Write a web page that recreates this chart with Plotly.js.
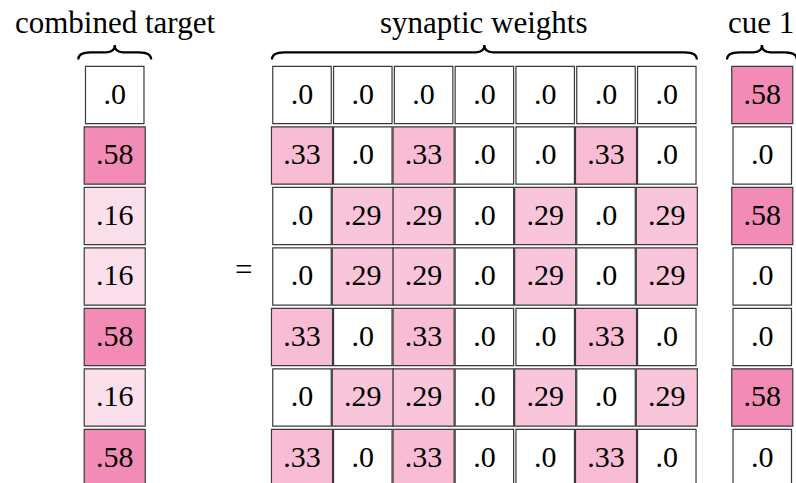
<!DOCTYPE html>
<html>
<head>
<meta charset="utf-8">
<script src="https://cdn.plot.ly/plotly-3.0.1.min.js"></script>
<style>html,body{margin:0;padding:0;background:#fff;}#chart{width:796px;height:483px;}</style>
</head>
<body>
<div id="chart"></div>
<script>
// ---- data ----
const titles = ["combined target", "synaptic weights", "cue 1"];
const combinedTarget = [0, 0.58, 0.16, 0.16, 0.58, 0.16, 0.58];
const weightsRow0 = [0, 0, 0, 0, 0, 0, 0];
const weightsRow1 = [0.33, 0, 0.33, 0, 0, 0.33, 0];
const weightsRow2 = [0, 0.29, 0.29, 0, 0.29, 0, 0.29];
const weightsRow3 = [0, 0.29, 0.29, 0, 0.29, 0, 0.29];
const weightsRow4 = [0.33, 0, 0.33, 0, 0, 0.33, 0];
const weightsRow5 = [0, 0.29, 0.29, 0, 0.29, 0, 0.29];
const weightsRow6 = [0.33, 0, 0.33, 0, 0, 0.33, 0];
const cue1 = [0.58, 0, 0.58, 0, 0, 0.58, 0];
const weights = [weightsRow0, weightsRow1, weightsRow2, weightsRow3, weightsRow4, weightsRow5, weightsRow6];

// ---- helpers ----
function label(v) { return v === 0 ? ".0" : "." + String(Math.round(v * 100)).padStart(2, "0"); }
function fill(v) {
  const r = Math.round(255 - 22 * v), g = Math.round(255 - 200 * v), b = Math.round(255 - 126 * v);
  return "rgb(" + r + "," + g + "," + b + ")";
}

// layout constants (axis units: 1 = one cell pitch)
const targetX = -3.08, cueX = 7.57, eqX = -0.955;
const halfH = 0.474;
function halfW(v) { return v === 0 ? 0.481 : 0.502; }
const serif = "Liberation Serif";

const shapes = [];
const traces = [];
function addCell(x, y, v) {
  const hw = halfW(v);
  shapes.push({type: "rect", xref: "x", yref: "y", x0: x - hw, x1: x + hw, y0: y - halfH, y1: y + halfH,
    fillcolor: fill(v), line: {color: "#3a3a3a", width: 1.2}, layer: "below"});
}
function addTextTrace(xs, ys, vs) {
  traces.push({type: "scatter", mode: "text", x: xs, y: ys, text: vs.map(label),
    textposition: "middle center", hoverinfo: "skip", showlegend: false,
    textfont: {family: serif, size: 30, color: "#000"}});
}

// combined target column
{
  const xs = [], ys = [];
  combinedTarget.forEach((v, i) => { addCell(targetX, i, v); xs.push(targetX); ys.push(i + 0.02); });
  addTextTrace(xs, ys, combinedTarget);
}
// synaptic weights matrix
{
  const xs = [], ys = [], vs = [];
  weights.forEach((row, i) => row.forEach((v, j) => { addCell(j, i, v); xs.push(j); ys.push(i + 0.02); vs.push(v); }));
  addTextTrace(xs, ys, vs);
}
// cue column
{
  const xs = [], ys = [];
  cue1.forEach((v, i) => { addCell(cueX, i, v); xs.push(cueX); ys.push(i + 0.02); });
  addTextTrace(xs, ys, cue1);
}

// braces
function brace(x0, x1) {
  const yb = -0.585, ym = -0.705, yt = -0.825, r1 = 0.2, r2 = 0.14, xc = (x0 + x1) / 2;
  return "M" + x0 + "," + yb + " Q" + x0 + "," + ym + " " + (x0 + r1) + "," + ym +
    " L" + (xc - r2) + "," + ym + " Q" + xc + "," + ym + " " + xc + "," + yt +
    " Q" + xc + "," + ym + " " + (xc + r2) + "," + ym +
    " L" + (x1 - r1) + "," + ym + " Q" + x1 + "," + ym + " " + x1 + "," + yb;
}
[[targetX - 0.6, targetX + 0.6], [-0.495, 6.495], [cueX - 0.58, cueX + 0.57]].forEach(b => {
  shapes.push({type: "path", xref: "x", yref: "y", path: brace(b[0], b[1]), line: {color: "#000", width: 2.2}});
});

const annotations = [
  {x: targetX, y: -1.2, text: titles[0]},
  {x: 3, y: -1.2, text: titles[1]},
  {x: cueX - 0.02, y: -1.2, text: titles[2]},
  {x: eqX, y: 2.89, text: "="}
].map(a => Object.assign({xref: "x", yref: "y", showarrow: false, xanchor: "center", yanchor: "middle",
  font: {family: serif, size: 31, color: "#000"}}, a));

const layout = {
  width: 796, height: 483,
  margin: {l: 0, r: 0, t: 0, b: 0},
  paper_bgcolor: "#fff", plot_bgcolor: "#fff",
  xaxis: {range: [-4.967, 8.125], visible: false, fixedrange: true},
  yaxis: {range: [6.413, -1.570], visible: false, fixedrange: true},
  shapes: shapes, annotations: annotations, showlegend: false
};
Plotly.newPlot("chart", traces, layout, {staticPlot: true, displayModeBar: false});
</script>
</body>
</html>
